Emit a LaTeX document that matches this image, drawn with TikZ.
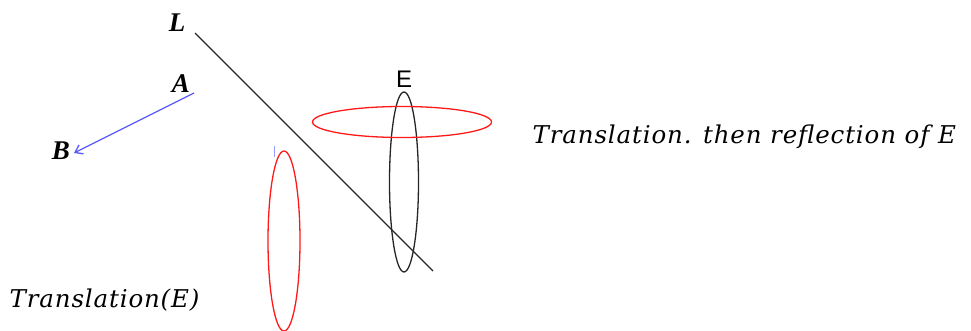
\documentclass[tikz,border=0pt]{standalone}
\usepackage{fontspec}
\usetikzlibrary{positioning,arrows.meta,calc}
\newfontfamily\timesfont{Liberation Serif}
\newfontfamily\arialfont{Liberation Sans}
\newfontfamily\mathitfont[LetterSpace=3.5]{DejaVu Serif}

\begin{document}
\begin{tikzpicture}[x=1pt,y=-1pt,line width=1.3pt]
  \tikzstyle{lab}=[inner sep=0pt,font=\timesfont\bfseries\itshape\fontsize{27}{29}\selectfont]
  \tikzstyle{img}=[draw=red!90!white,line width=1.3pt]
  \tikzstyle{caption}=[inner sep=0pt,anchor=west,font=\mathitfont\itshape\fontsize{24.5}{26}\selectfont]
  \useasboundingbox (0,0) rectangle (971,331);
  % mirror line L
  \coordinate (l1) at (195,33);
  \coordinate (l2) at (433,271);
  \node[lab] (L) at (177,23) {L};
  \draw[black!85] (l1) -- (l2);
  % translation vector
  \coordinate (a) at (194,93);
  \coordinate (b) at (74,153);
  \node[lab] (A) at (181,84) {A};
  \node[lab] (B) at (61,151) {B};
  \draw[blue!65,-{Straight Barb[length=7pt,width=10pt]}] (a) -- (b);
  % original E
  \node[inner sep=0pt,font=\arialfont\fontsize{24}{26}\selectfont] (E) at (404,79) {E};
  \draw[black!85] (404,182) ellipse (14.5 and 90);
  % images of E
  \draw[img] (402,122) ellipse (89.5 and 15.5);
  \draw[img] (284,241) ellipse (16 and 90);
  \draw[blue!40,line width=0.6pt] (274,146) -- (274,157);
  % captions
  \node[caption] (tr) at (9,300) {Translation(E)};
  \node[caption] (trr) at (532,137) {Translation. then reflection of E};
\end{tikzpicture}
\end{document}
